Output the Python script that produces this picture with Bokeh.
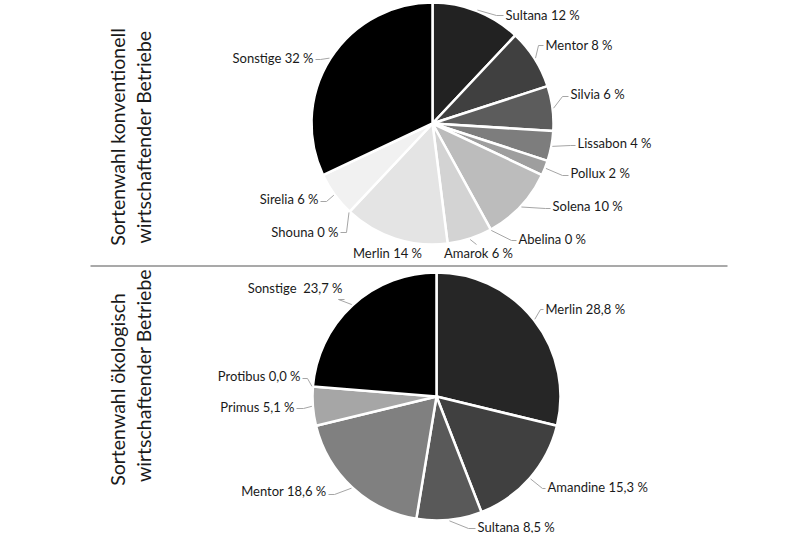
import math
from bokeh.plotting import figure
from bokeh.models import Range1d, ColumnDataSource
from bokeh.core.properties import value
from bokeh.embed import file_html
from bokeh.resources import INLINE

# ---------------- data ----------------
top_names = ["Sultana", "Mentor", "Silvia", "Lissabon", "Pollux", "Solena",
             "Abelina", "Amarok", "Merlin", "Shouna", "Sirelia", "Sonstige"]
top_values = [12, 8, 6, 4, 2, 10, 0, 6, 14, 0, 6, 32]

bottom_names = ["Merlin", "Amandine", "Sultana", "Mentor", "Primus", "Protibus", "Sonstige"]
bottom_values = [28.8, 15.3, 8.5, 18.6, 5.1, 0.0, 23.7]
bottom_sep = [" ", " ", " ", " ", " ", " ", "\u00a0 "]

title_top = ["Sortenwahl konventionell", "wirtschaftender Betriebe"]
title_bottom = ["Sortenwahl ökologisch", "wirtschaftender Betriebe"]

# ---------------- styles / layout ----------------
top_colors = ["#222222", "#404040", "#5c5c5c", "#7d7d7d", "#9e9e9e", "#bcbcbc",
              "#c8c8c8", "#d3d3d3", "#e4e4e4", "#ececec", "#f1f1f1", "#000000"]
bottom_colors = ["#262626", "#404040", "#595959", "#808080", "#a6a6a6", "#c0c0c0", "#000000"]

W, H = 800, 533
FONT = "Lato"
LFS = "13px"

# label layout in pixel coords: (text x, text y, align, elbow point or None)
top_layout = [
    (505, 14, "left", (496, 15)),
    (545, 44, "left", (538, 45)),
    (570, 93, "left", (562, 96)),
    (577, 142, "left", (570, 145)),
    (570, 172, "left", (562, 175)),
    (552, 205, "left", (545, 208)),
    (518, 238, "left", (511, 240)),
    (478, 252, "center", (476, 244)),
    (387, 252, "center", None),
    (338, 231, "right", (346, 232)),
    (318, 198, "right", (326, 201)),
    (313, 57, "right", (320, 59)),
]
bottom_layout = [
    (545, 308, "left", (540, 309)),
    (547, 486, "left", (542, 488)),
    (477, 526, "left", (468, 528)),
    (326, 490, "right", (334, 494)),
    (294, 406, "right", (303, 408)),
    (300, 375, "right", (307, 378)),
    (342, 287, "right", (338, 299)),
]

TOP_C = (432, 123, 121)
BOT_C = (436, 396, 124)


def Y(py):
    return H - py


p = figure(width=W, height=H, output_backend="svg", toolbar_location=None,
           x_range=Range1d(0, W), y_range=Range1d(0, H), min_border=0)
p.axis.visible = False
p.grid.visible = False
p.outline_line_color = None
p.background_fill_color = "white"


def draw_pie(vals, names, colors, center, layout, fmt):
    cx, cy, r = center
    total = float(sum(vals))
    cum = 0.0
    xs, ys, sa, ea, cols = [], [], [], [], []
    lead_x, lead_y = [], []
    tx, ty, tt, talign = [], [], [], []
    for i, v in enumerate(vals):
        a0 = math.pi / 2 - 2 * math.pi * cum / total
        a1 = math.pi / 2 - 2 * math.pi * (cum + v) / total
        mid = (a0 + a1) / 2
        if v > 0:
            xs.append(cx); ys.append(Y(cy)); sa.append(a0); ea.append(a1); cols.append(colors[i])
        cum += v
        lx, ly, al, elbow = layout[i]
        tt.append(fmt(i))
        tx.append(lx); ty.append(Y(ly)); talign.append(al)
        if elbow is not None:
            px = cx + (r + 1) * math.cos(mid)
            py = Y(cy) + (r + 1) * math.sin(mid)
            ex, ey = elbow
            pts_x = [px, ex]
            pts_y = [py, Y(ey)]
            if al == "left":
                pts_x.append(lx - 2); pts_y.append(Y(ey))
            elif al == "right":
                pts_x.append(lx + 2); pts_y.append(Y(ey))
            lead_x.append(pts_x); lead_y.append(pts_y)
    p.wedge(x=xs, y=ys, radius=r, start_angle=sa, end_angle=ea, direction="clock",
            fill_color=cols, line_color="white", line_width=2.5)
    p.multi_line(xs=lead_x, ys=lead_y, line_color="#a6a6a6", line_width=1)
    src = ColumnDataSource(dict(x=tx, y=ty, t=tt, a=talign))
    p.text(x="x", y="y", text="t", text_align="a", source=src, text_baseline="middle",
           text_font=value(FONT), text_font_size=LFS, text_color="#1a1a1a")


draw_pie(top_values, top_names, top_colors, TOP_C, top_layout,
         lambda i: f"{top_names[i]} {top_values[i]} %")
draw_pie(bottom_values, bottom_names, bottom_colors, BOT_C, bottom_layout,
         lambda i: f"{bottom_names[i]}{bottom_sep[i]}{bottom_values[i]:.1f} %".replace(".", ","))

# divider
p.line(x=[90, 727], y=[Y(265.5), Y(265.5)], line_color="#8c8c8c", line_width=1.5)

# vertical titles
title_x = [117, 143]
p.text(x=title_x, y=[Y(136.5), Y(136.5)], text=title_top, angle=math.pi / 2,
       text_align="center", text_baseline="middle", text_font=value(FONT),
       text_font_size="19.5px", text_color="#1a1a1a")
p.text(x=title_x, y=[Y(389), Y(375)], text=title_bottom, angle=math.pi / 2,
       text_align="center", text_baseline="middle", text_font=value(FONT),
       text_font_size="19.5px", text_color="#1a1a1a")

open("out.html", "w").write(file_html(p, INLINE))
